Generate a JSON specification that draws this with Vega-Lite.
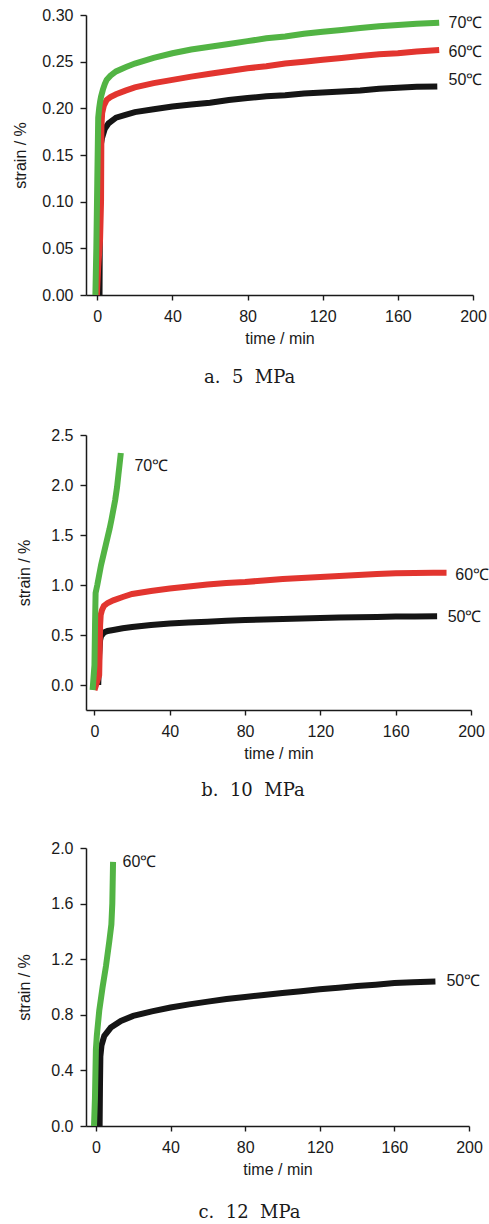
{
  "$schema": "https://vega.github.io/schema/vega-lite/v6.json",
  "padding": {"left": 12, "top": 7, "right": 0, "bottom": 0},
  "background": "white",
  "columns": 1,
  "align": "none",
  "spacing": 40,
  "resolve": {"scale": {"color": "independent", "x": "independent", "y": "independent"}},
  "datasets": {
    "a": [
      {"series": "50℃", "t": 1.2, "strain": 0},
      {"series": "50℃", "t": 1.5, "strain": 0.14},
      {"series": "50℃", "t": 1.8, "strain": 0.16},
      {"series": "50℃", "t": 2.5, "strain": 0.168},
      {"series": "50℃", "t": 4, "strain": 0.178},
      {"series": "50℃", "t": 6, "strain": 0.184},
      {"series": "50℃", "t": 10, "strain": 0.19},
      {"series": "50℃", "t": 15, "strain": 0.193},
      {"series": "50℃", "t": 20, "strain": 0.196},
      {"series": "50℃", "t": 30, "strain": 0.199},
      {"series": "50℃", "t": 40, "strain": 0.202},
      {"series": "50℃", "t": 50, "strain": 0.204},
      {"series": "50℃", "t": 60, "strain": 0.206},
      {"series": "50℃", "t": 70, "strain": 0.209},
      {"series": "50℃", "t": 80, "strain": 0.211},
      {"series": "50℃", "t": 90, "strain": 0.213},
      {"series": "50℃", "t": 100, "strain": 0.214},
      {"series": "50℃", "t": 110, "strain": 0.216},
      {"series": "50℃", "t": 120, "strain": 0.217},
      {"series": "50℃", "t": 130, "strain": 0.218},
      {"series": "50℃", "t": 140, "strain": 0.219},
      {"series": "50℃", "t": 150, "strain": 0.221},
      {"series": "50℃", "t": 160, "strain": 0.222},
      {"series": "50℃", "t": 170, "strain": 0.223},
      {"series": "50℃", "t": 181, "strain": 0.2235},
      {"series": "60℃", "t": -0.2, "strain": 0},
      {"series": "60℃", "t": 0.5, "strain": 0.03},
      {"series": "60℃", "t": 1.5, "strain": 0.06},
      {"series": "60℃", "t": 2, "strain": 0.1},
      {"series": "60℃", "t": 2.2, "strain": 0.18},
      {"series": "60℃", "t": 2.6, "strain": 0.195},
      {"series": "60℃", "t": 3.5, "strain": 0.203},
      {"series": "60℃", "t": 5, "strain": 0.209},
      {"series": "60℃", "t": 7, "strain": 0.212},
      {"series": "60℃", "t": 10, "strain": 0.215},
      {"series": "60℃", "t": 15, "strain": 0.219},
      {"series": "60℃", "t": 20, "strain": 0.2225},
      {"series": "60℃", "t": 30, "strain": 0.227},
      {"series": "60℃", "t": 40, "strain": 0.2305},
      {"series": "60℃", "t": 50, "strain": 0.234},
      {"series": "60℃", "t": 60, "strain": 0.237},
      {"series": "60℃", "t": 70, "strain": 0.24},
      {"series": "60℃", "t": 80, "strain": 0.243},
      {"series": "60℃", "t": 90, "strain": 0.245},
      {"series": "60℃", "t": 100, "strain": 0.248},
      {"series": "60℃", "t": 110, "strain": 0.25},
      {"series": "60℃", "t": 120, "strain": 0.252},
      {"series": "60℃", "t": 130, "strain": 0.254},
      {"series": "60℃", "t": 140, "strain": 0.256},
      {"series": "60℃", "t": 150, "strain": 0.258},
      {"series": "60℃", "t": 160, "strain": 0.259},
      {"series": "60℃", "t": 170, "strain": 0.261},
      {"series": "60℃", "t": 182, "strain": 0.2625},
      {"series": "70℃", "t": -1, "strain": 0},
      {"series": "70℃", "t": -0.5, "strain": 0.05},
      {"series": "70℃", "t": 0, "strain": 0.12},
      {"series": "70℃", "t": 0.5, "strain": 0.19},
      {"series": "70℃", "t": 1, "strain": 0.2},
      {"series": "70℃", "t": 1.5, "strain": 0.207},
      {"series": "70℃", "t": 2, "strain": 0.2125},
      {"series": "70℃", "t": 3, "strain": 0.22},
      {"series": "70℃", "t": 4, "strain": 0.226},
      {"series": "70℃", "t": 5, "strain": 0.2305},
      {"series": "70℃", "t": 7, "strain": 0.235},
      {"series": "70℃", "t": 10, "strain": 0.2395},
      {"series": "70℃", "t": 15, "strain": 0.244},
      {"series": "70℃", "t": 20, "strain": 0.248},
      {"series": "70℃", "t": 30, "strain": 0.254},
      {"series": "70℃", "t": 40, "strain": 0.259},
      {"series": "70℃", "t": 50, "strain": 0.263},
      {"series": "70℃", "t": 60, "strain": 0.266},
      {"series": "70℃", "t": 70, "strain": 0.269},
      {"series": "70℃", "t": 80, "strain": 0.272},
      {"series": "70℃", "t": 90, "strain": 0.275},
      {"series": "70℃", "t": 100, "strain": 0.277},
      {"series": "70℃", "t": 110, "strain": 0.28},
      {"series": "70℃", "t": 120, "strain": 0.282},
      {"series": "70℃", "t": 130, "strain": 0.284},
      {"series": "70℃", "t": 140, "strain": 0.286},
      {"series": "70℃", "t": 150, "strain": 0.288},
      {"series": "70℃", "t": 160, "strain": 0.2894},
      {"series": "70℃", "t": 170, "strain": 0.2905},
      {"series": "70℃", "t": 182, "strain": 0.2918}
    ],
    "a_labels": [
      {"label": "70℃", "t": 187, "strain": 0.2915},
      {"label": "60℃", "t": 187, "strain": 0.2605},
      {"label": "50℃", "t": 187, "strain": 0.2304}
    ],
    "b": [
      {"series": "50℃", "t": 2, "strain": 0},
      {"series": "50℃", "t": 2.5, "strain": 0.3},
      {"series": "50℃", "t": 3, "strain": 0.45},
      {"series": "50℃", "t": 3.5, "strain": 0.49},
      {"series": "50℃", "t": 5, "strain": 0.525},
      {"series": "50℃", "t": 7, "strain": 0.54},
      {"series": "50℃", "t": 10, "strain": 0.55},
      {"series": "50℃", "t": 15, "strain": 0.567},
      {"series": "50℃", "t": 20, "strain": 0.58},
      {"series": "50℃", "t": 30, "strain": 0.6},
      {"series": "50℃", "t": 40, "strain": 0.615},
      {"series": "50℃", "t": 50, "strain": 0.625},
      {"series": "50℃", "t": 60, "strain": 0.633},
      {"series": "50℃", "t": 70, "strain": 0.642},
      {"series": "50℃", "t": 80, "strain": 0.65},
      {"series": "50℃", "t": 90, "strain": 0.655},
      {"series": "50℃", "t": 100, "strain": 0.66},
      {"series": "50℃", "t": 110, "strain": 0.665},
      {"series": "50℃", "t": 120, "strain": 0.67},
      {"series": "50℃", "t": 130, "strain": 0.675},
      {"series": "50℃", "t": 140, "strain": 0.678},
      {"series": "50℃", "t": 150, "strain": 0.681},
      {"series": "50℃", "t": 160, "strain": 0.684},
      {"series": "50℃", "t": 170, "strain": 0.686},
      {"series": "50℃", "t": 182, "strain": 0.688},
      {"series": "60℃", "t": 0, "strain": -0.05},
      {"series": "60℃", "t": 2.5, "strain": 0.1},
      {"series": "60℃", "t": 3, "strain": 0.6},
      {"series": "60℃", "t": 3.3, "strain": 0.7},
      {"series": "60℃", "t": 4, "strain": 0.75},
      {"series": "60℃", "t": 5, "strain": 0.79},
      {"series": "60℃", "t": 7, "strain": 0.82},
      {"series": "60℃", "t": 10, "strain": 0.847},
      {"series": "60℃", "t": 15, "strain": 0.88},
      {"series": "60℃", "t": 20, "strain": 0.91},
      {"series": "60℃", "t": 30, "strain": 0.94},
      {"series": "60℃", "t": 40, "strain": 0.964},
      {"series": "60℃", "t": 50, "strain": 0.985},
      {"series": "60℃", "t": 60, "strain": 1.004},
      {"series": "60℃", "t": 70, "strain": 1.02},
      {"series": "60℃", "t": 80, "strain": 1.03},
      {"series": "60℃", "t": 90, "strain": 1.045},
      {"series": "60℃", "t": 100, "strain": 1.06},
      {"series": "60℃", "t": 110, "strain": 1.07},
      {"series": "60℃", "t": 120, "strain": 1.08},
      {"series": "60℃", "t": 130, "strain": 1.09},
      {"series": "60℃", "t": 140, "strain": 1.1},
      {"series": "60℃", "t": 150, "strain": 1.11},
      {"series": "60℃", "t": 160, "strain": 1.118},
      {"series": "60℃", "t": 170, "strain": 1.12},
      {"series": "60℃", "t": 180, "strain": 1.122},
      {"series": "60℃", "t": 187, "strain": 1.122},
      {"series": "70℃", "t": -1, "strain": -0.05},
      {"series": "70℃", "t": 0, "strain": 0.2},
      {"series": "70℃", "t": 0.3, "strain": 0.6},
      {"series": "70℃", "t": 0.6, "strain": 0.92},
      {"series": "70℃", "t": 1.5, "strain": 1.0},
      {"series": "70℃", "t": 2.5, "strain": 1.1},
      {"series": "70℃", "t": 3.5, "strain": 1.2},
      {"series": "70℃", "t": 5, "strain": 1.32},
      {"series": "70℃", "t": 6, "strain": 1.4},
      {"series": "70℃", "t": 7, "strain": 1.48},
      {"series": "70℃", "t": 8, "strain": 1.56},
      {"series": "70℃", "t": 9, "strain": 1.65},
      {"series": "70℃", "t": 10, "strain": 1.75},
      {"series": "70℃", "t": 11, "strain": 1.85},
      {"series": "70℃", "t": 12, "strain": 1.98},
      {"series": "70℃", "t": 12.7, "strain": 2.1},
      {"series": "70℃", "t": 13.3, "strain": 2.2},
      {"series": "70℃", "t": 14, "strain": 2.32}
    ],
    "b_labels": [
      {"label": "70℃", "t": 21.2, "strain": 2.19},
      {"label": "60℃", "t": 191.7, "strain": 1.097},
      {"label": "50℃", "t": 187.6, "strain": 0.68}
    ],
    "c": [
      {"series": "50℃", "t": 2, "strain": 0},
      {"series": "50℃", "t": 2.2, "strain": 0.3},
      {"series": "50℃", "t": 2.4, "strain": 0.5},
      {"series": "50℃", "t": 3, "strain": 0.58},
      {"series": "50℃", "t": 4.5, "strain": 0.648},
      {"series": "50℃", "t": 8, "strain": 0.708},
      {"series": "50℃", "t": 13.4, "strain": 0.756},
      {"series": "50℃", "t": 20, "strain": 0.792},
      {"series": "50℃", "t": 30, "strain": 0.825},
      {"series": "50℃", "t": 40, "strain": 0.852},
      {"series": "50℃", "t": 50, "strain": 0.875},
      {"series": "50℃", "t": 60, "strain": 0.895},
      {"series": "50℃", "t": 70, "strain": 0.913},
      {"series": "50℃", "t": 80, "strain": 0.928},
      {"series": "50℃", "t": 90, "strain": 0.943},
      {"series": "50℃", "t": 100, "strain": 0.957},
      {"series": "50℃", "t": 110, "strain": 0.97},
      {"series": "50℃", "t": 120, "strain": 0.984},
      {"series": "50℃", "t": 130, "strain": 0.995},
      {"series": "50℃", "t": 140, "strain": 1.007},
      {"series": "50℃", "t": 150, "strain": 1.017},
      {"series": "50℃", "t": 160, "strain": 1.028},
      {"series": "50℃", "t": 170, "strain": 1.035},
      {"series": "50℃", "t": 182, "strain": 1.04},
      {"series": "60℃", "t": -1, "strain": 0},
      {"series": "60℃", "t": -0.5, "strain": 0.2},
      {"series": "60℃", "t": 0, "strain": 0.55},
      {"series": "60℃", "t": 0.5, "strain": 0.65},
      {"series": "60℃", "t": 1.8, "strain": 0.83},
      {"series": "60℃", "t": 3.6, "strain": 1.0},
      {"series": "60℃", "t": 5.4, "strain": 1.15},
      {"series": "60℃", "t": 7.2, "strain": 1.33},
      {"series": "60℃", "t": 8.3, "strain": 1.45},
      {"series": "60℃", "t": 8.8, "strain": 1.6},
      {"series": "60℃", "t": 9, "strain": 1.75},
      {"series": "60℃", "t": 9.2, "strain": 1.9}
    ],
    "c_labels": [
      {"label": "60℃", "t": 14.3, "strain": 1.896},
      {"label": "50℃", "t": 187.9, "strain": 1.04}
    ]
  },
  "concat": [
    {
      "width": 387,
      "height": 280,
      "title": {"text": "a.\u00a0\u00a05\u00a0\u00a0MPa", "offset": 23},
      "layer": [
        {
          "data": {"name": "a"},
          "mark": {"type": "line", "strokeWidth": 6, "strokeCap": "butt"},
          "encoding": {
            "x": {"field": "t", "type": "quantitative", "scale": {"domain": [-6, 200], "nice": false, "zero": false},
              "axis": {"title": "time / min", "values": [0, 20, 40, 60, 80, 100, 120, 140, 160, 180, 200], "labelExpr": "datum.value % 40 === 0 ? datum.label : ''", "tickSize": 5, "labelPadding": 8, "titlePadding": 6}},
            "y": {"field": "strain", "type": "quantitative", "scale": {"domain": [0, 0.3], "nice": false, "zero": false},
              "axis": {"title": "strain / %", "values": [0, 0.025, 0.05, 0.075, 0.1, 0.125, 0.15, 0.175, 0.2, 0.225, 0.25, 0.275, 0.3],
                "labelExpr": "abs(datum.value*20 - round(datum.value*20)) < 0.001 ? format(datum.value, '.2f') : ''",
                "tickSize": {"condition": {"test": "abs(datum.value*20 - round(datum.value*20)) < 0.001", "value": 6}, "value": 3},
                "labelPadding": 7, "titlePadding": 13}},
            "color": {"field": "series", "type": "nominal", "legend": null,
              "scale": {"domain": ["50℃", "60℃", "70℃"], "range": ["#151515", "#e2352f", "#52b444"]}}
          }
        },
        {
          "data": {"name": "a_labels"},
          "mark": {"type": "text", "align": "left", "baseline": "middle", "font": "Liberation Sans", "fontSize": 16, "fill": "#1a1a1a"},
          "encoding": {
            "x": {"field": "t", "type": "quantitative"},
            "y": {"field": "strain", "type": "quantitative"},
            "text": {"field": "label"}
          }
        }
      ]
    },
    {
      "width": 385,
      "height": 275,
      "title": {"text": "b.\u00a0\u00a010\u00a0\u00a0MPa", "offset": 21},
      "layer": [
        {
          "data": {"name": "b"},
          "mark": {"type": "line", "strokeWidth": 6, "strokeCap": "butt"},
          "encoding": {
            "x": {"field": "t", "type": "quantitative", "scale": {"domain": [-4.5, 200], "nice": false, "zero": false},
              "axis": {"title": "time / min", "values": [0, 10, 20, 30, 40, 50, 60, 70, 80, 90, 100, 110, 120, 130, 140, 150, 160, 170, 180, 190, 200], "labelExpr": "datum.value % 40 === 0 ? datum.label : ''", "tickSize": 5, "labelPadding": 8, "titlePadding": 6}},
            "y": {"field": "strain", "type": "quantitative", "scale": {"domain": [-0.25, 2.5], "nice": false, "zero": false},
              "axis": {"title": "strain / %", "values": [0, 0.25, 0.5, 0.75, 1, 1.25, 1.5, 1.75, 2, 2.25, 2.5],
                "labelExpr": "abs(datum.value*2 - round(datum.value*2)) < 0.001 ? format(datum.value, '.1f') : ''",
                "tickSize": {"condition": {"test": "abs(datum.value*2 - round(datum.value*2)) < 0.001", "value": 6}, "value": 3},
                "labelPadding": 7, "titlePadding": 18}},
            "color": {"field": "series", "type": "nominal", "legend": null,
              "scale": {"domain": ["50℃", "60℃", "70℃"], "range": ["#151515", "#e2352f", "#52b444"]}}
          }
        },
        {
          "data": {"name": "b_labels"},
          "mark": {"type": "text", "align": "left", "baseline": "middle", "font": "Liberation Sans", "fontSize": 16, "fill": "#1a1a1a"},
          "encoding": {
            "x": {"field": "t", "type": "quantitative"},
            "y": {"field": "strain", "type": "quantitative"},
            "text": {"field": "label"}
          }
        }
      ]
    },
    {
      "width": 383,
      "height": 278,
      "title": {"text": "c.\u00a0\u00a012\u00a0\u00a0MPa", "offset": 27},
      "layer": [
        {
          "data": {"name": "c"},
          "mark": {"type": "line", "strokeWidth": 6, "strokeCap": "butt"},
          "encoding": {
            "x": {"field": "t", "type": "quantitative", "scale": {"domain": [-5.3, 200], "nice": false, "zero": false},
              "axis": {"title": "time / min", "values": [0, 10, 20, 30, 40, 50, 60, 70, 80, 90, 100, 110, 120, 130, 140, 150, 160, 170, 180, 190, 200], "labelExpr": "datum.value % 40 === 0 ? datum.label : ''", "tickSize": 5, "labelPadding": 8, "titlePadding": 6}},
            "y": {"field": "strain", "type": "quantitative", "scale": {"domain": [0, 2], "nice": false, "zero": false},
              "axis": {"title": "strain / %", "values": [0, 0.1, 0.2, 0.3, 0.4, 0.5, 0.6, 0.7, 0.8, 0.9, 1, 1.1, 1.2, 1.3, 1.4, 1.5, 1.6, 1.7, 1.8, 1.9, 2],
                "labelExpr": "abs(datum.value*2.5 - round(datum.value*2.5)) < 0.001 ? format(datum.value, '.1f') : ''",
                "tickSize": {"condition": {"test": "abs(datum.value*2.5 - round(datum.value*2.5)) < 0.001", "value": 6}, "value": 3},
                "labelPadding": 7, "titlePadding": 18}},
            "color": {"field": "series", "type": "nominal", "legend": null,
              "scale": {"domain": ["50℃", "60℃"], "range": ["#151515", "#52b444"]}}
          }
        },
        {
          "data": {"name": "c_labels"},
          "mark": {"type": "text", "align": "left", "baseline": "middle", "font": "Liberation Sans", "fontSize": 16, "fill": "#1a1a1a"},
          "encoding": {
            "x": {"field": "t", "type": "quantitative"},
            "y": {"field": "strain", "type": "quantitative"},
            "text": {"field": "label"}
          }
        }
      ]
    }
  ],
  "config": {
    "view": {"stroke": null},
    "axis": {"grid": false, "domainColor": "#1a1a1a", "domainWidth": 1.5, "tickColor": "#1a1a1a", "tickWidth": 1.4,
      "labelFont": "Liberation Sans", "labelFontSize": 16, "labelColor": "#1a1a1a",
      "titleFont": "Liberation Sans", "titleFontSize": 16, "titleFontWeight": "normal", "titleColor": "#1a1a1a",
      "labelOverlap": false, "labelFlush": false},
    "title": {"orient": "bottom", "font": "DejaVu Serif", "fontSize": 18, "fontWeight": "normal", "color": "#1a1a1a", "frame": "bounds", "anchor": "middle", "offset": 24}
  }
}
